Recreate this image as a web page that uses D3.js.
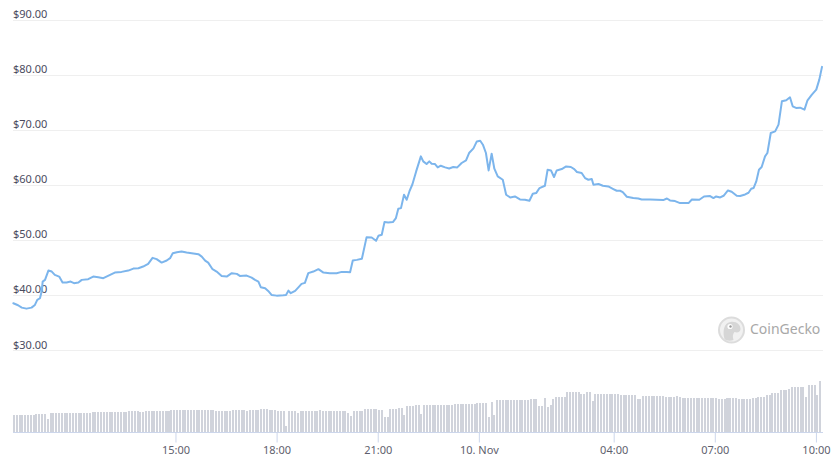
<!DOCTYPE html>
<html>
<head>
<meta charset="utf-8">
<script src="https://cdn.jsdelivr.net/npm/d3@7"></script>
<style>
  body { margin: 0; background: #fff; }
  svg { display: block; font-family: "Noto Sans", "Open Sans", sans-serif; }
</style>
</head>
<body>
<div id="chart"></div>
<script>
// Price readings: hours since 9 Nov 00:00, and USD price
var priceHours = [
  10.19, 10.33, 10.44, 10.58, 10.73, 10.83, 10.90, 10.98, 11.03, 11.06, 11.13, 11.23, 11.33, 11.42,
  11.55, 11.65, 11.77, 11.89, 11.99, 12.12, 12.22, 12.41, 12.56, 12.71, 12.86, 13.06, 13.20, 13.40,
  13.60, 13.75, 13.90, 14.04, 14.19, 14.32, 14.44, 14.59, 14.74, 14.84, 14.92, 15.04, 15.18, 15.33,
  15.48, 15.68, 15.78, 15.88, 15.97, 16.10, 16.22, 16.37, 16.52, 16.67, 16.82, 16.91, 17.11, 17.26,
  17.36, 17.46, 17.53, 17.66, 17.75, 17.85, 18.00, 18.20, 18.28, 18.35, 18.42, 18.55, 18.64, 18.74,
  18.84, 18.94, 19.09, 19.24, 19.39, 19.58, 19.78, 19.93, 20.08, 20.18, 20.26, 20.38, 20.53, 20.67,
  20.82, 20.95, 21.02, 21.12, 21.20, 21.31, 21.45, 21.54, 21.61, 21.69, 21.78, 21.86, 21.94, 22.03,
  22.14, 22.28, 22.35, 22.45, 22.53, 22.60, 22.70, 22.78, 22.87, 23.00, 23.12, 23.24, 23.36, 23.49,
  23.62, 23.71, 23.84, 23.94, 24.04, 24.12, 24.21, 24.29, 24.38, 24.46, 24.56, 24.71, 24.81, 24.93,
  25.07, 25.22, 25.37, 25.50, 25.60, 25.70, 25.80, 25.96, 26.04, 26.14, 26.23, 26.31, 26.46, 26.59,
  26.73, 26.83, 26.91, 27.05, 27.15, 27.25, 27.35, 27.40, 27.55, 27.68, 27.84, 27.99, 28.09, 28.19,
  28.27, 28.39, 28.58, 28.73, 28.83, 29.08, 29.47, 29.58, 29.67, 29.82, 29.97, 30.22, 30.32, 30.54,
  30.68, 30.86, 30.96, 31.04, 31.16, 31.26, 31.39, 31.50, 31.65, 31.75, 31.90, 32.00, 32.08, 32.15,
  32.23, 32.31, 32.39, 32.49, 32.56, 32.66, 32.79, 32.89, 32.99, 33.12, 33.23, 33.31, 33.41, 33.53,
  33.66, 33.75, 33.88, 34.01, 34.10, 34.18
]
var prices = [
  38.49, 38.13, 37.69, 37.51, 37.69, 38.18, 39.09, 39.40, 40.60, 42.42, 42.73, 44.42, 44.24, 43.64,
  43.33, 42.24, 42.24, 42.42, 42.13, 42.24, 42.73, 42.85, 43.33, 43.22, 43.04, 43.64, 44.05, 44.18,
  44.42, 44.78, 44.85, 45.15, 45.64, 46.73, 46.49, 45.87, 46.24, 46.67, 47.58, 47.76, 47.87, 47.69,
  47.58, 47.40, 46.96, 46.24, 45.87, 44.67, 44.24, 43.45, 43.33, 43.95, 43.82, 43.45, 43.51, 43.15,
  42.73, 42.42, 41.40, 41.22, 40.73, 40.00, 39.87, 39.95, 40.00, 40.78, 40.31, 40.73, 41.33, 42.00,
  42.18, 43.95, 44.24, 44.67, 44.05, 43.95, 43.95, 44.18, 44.18, 44.13, 46.24, 46.36, 46.55, 50.49,
  50.42, 49.82, 50.73, 50.91, 53.22, 53.15, 53.22, 53.95, 55.64, 55.76, 58.18, 57.27, 58.78, 60.09,
  62.42, 65.15, 64.24, 63.76, 64.24, 63.82, 63.76, 63.15, 63.45, 63.15, 62.96, 63.22, 63.15, 63.95,
  64.42, 65.76, 66.60, 67.87, 68.00, 67.27, 65.76, 62.60, 65.64, 62.91, 61.51, 60.91, 58.18, 57.69,
  57.87, 57.33, 57.27, 57.09, 58.36, 58.49, 59.40, 59.82, 62.73, 62.60, 61.40, 62.60, 62.85, 63.33,
  63.22, 62.85, 62.31, 62.13, 61.22, 60.91, 61.04, 60.00, 60.13, 59.82, 59.69, 59.22, 58.91, 58.91,
  58.67, 57.82, 57.58, 57.51, 57.33, 57.33, 57.22, 57.51, 57.15, 57.04, 56.67, 56.67, 57.33, 57.27,
  57.87, 57.95, 57.58, 57.87, 57.69, 58.00, 58.96, 58.73, 58.00, 57.95, 58.24, 58.55, 59.27, 59.40,
  60.60, 62.73, 63.22, 65.15, 65.76, 69.40, 69.69, 70.91, 75.15, 75.33, 75.87, 74.24, 73.95, 74.00,
  73.64, 75.33, 76.36, 77.27, 79.09, 81.40
]

// Volume, one bar per 5 minutes (relative units), from 10:11 on 9 Nov
var volumes = [
  17, 17, 17, 17, 17, 17, 17, 17, 18, 18, 18, 18, 13, 19, 19, 19, 19, 19, 19, 19, 19, 19, 19, 19,
  19, 19, 19, 19, 20, 20, 20, 20, 20, 20, 20, 20, 20, 20, 20, 20, 20, 21, 21, 21, 21, 20, 20, 21,
  21, 21, 21, 21, 21, 21, 21, 21, 22, 22, 22, 22, 22, 22, 22, 22, 22, 22, 22, 22, 22, 22, 22, 22,
  21.5, 21.5, 21.5, 21.5, 21.5, 21.5, 22.3, 22.3, 22.3, 22.3, 22.3, 20.7, 22.3, 22.3, 22.3, 22.3, 23.3, 23.3, 23.3, 22.3, 22.3, 22.3, 21.3, 21.3,
  21.3, 5.7, 21.3, 21.3, 21.3, 19, 21.3, 21.3, 21.3, 21.3, 21.3, 21.3, 21.3, 22.3, 21.3, 21.3, 21.3, 21.3, 21.3, 21.3, 21.3, 21.3, 20.7, 19,
  15.7, 21.5, 21.5, 21.5, 21.5, 23.3, 23.3, 23.3, 23.3, 23.3, 22.3, 22.3, 15, 15, 23.3, 23.3, 23.3, 24, 24, 17.3, 25.7, 25.7, 25.7, 26.7,
  26.7, 18.3, 27.3, 27.3, 27.3, 27.3, 27.3, 27.3, 27.3, 27.3, 27.3, 27.3, 27.3, 27.7, 27.7, 27.7, 27.7, 28.3, 28.3, 28.3, 28.3, 29.3, 29.3, 29.3,
  29.3, 14.7, 30, 17.3, 32.3, 32.3, 32.3, 32.3, 32.3, 32.3, 32.3, 32.3, 32.3, 32.3, 32.3, 32.3, 33.3, 33.3, 33.3, 25.7, 25.7, 34, 24.7, 26.7,
  33.3, 35, 35, 35, 35, 39.7, 39.7, 39.7, 39.7, 39.7, 38.3, 38.3, 39.7, 39.7, 31.3, 38.3, 38.3, 38.3, 38.3, 38.3, 38.3, 38.3, 38.3, 38.3,
  37.3, 37.3, 37.3, 37.3, 37.3, 37.3, 33.3, 33.3, 36.3, 36.3, 36.3, 36.3, 36.3, 36.3, 36.3, 36.3, 35.3, 35.3, 35.3, 34.7, 35.7, 35, 34.3, 34.3,
  34.3, 34.3, 34.3, 34.3, 34.3, 34.3, 34.3, 34.3, 34.3, 34.3, 34.3, 33.3, 33.3, 33.3, 34.3, 34.3, 34.3, 34.3, 33.3, 33.3, 33.3, 33.3, 33.3, 34,
  34, 35.3, 35.3, 35.3, 36.7, 36.7, 38.7, 38.7, 38.7, 42.3, 42.3, 42.3, 43.3, 45.3, 45.3, 45.3, 45.3, 45.3, 34.7, 46.7, 46.7, 46.7, 36.7, 50.7
]

var startHour = 10.18
var endHour = 34.18

var yTicks = [30, 40, 50, 60, 70, 80, 90]
var xTickHours = [15, 18, 21, 24, 28, 31, 34]
var xTickLabels = ["15:00", "18:00", "21:00", "10. Nov", "04:00", "07:00", "10:00"]

var svgWidth = 838
var svgHeight = 465

var baseDate = new Date(2021, 10, 9)
function toDate(h) {
  return new Date(baseDate.getTime() + h * 3600e3)
}

var svg = d3.select("#chart")
  .append("svg")
  .attr("width", svgWidth)
  .attr("height", svgHeight)

// Scales
var xScale = d3.scaleTime()
  .domain([toDate(startHour), toDate(endHour)])
  .range([13, 822])

var yScale = d3.scaleLinear()
  .domain([30, 90])
  .range([350, 19.5])

var volScale = d3.scaleLinear()
  .domain([0, 60])
  .range([432, 372])

// Grid lines and price labels
var grid = svg.append("g")
grid.selectAll("line")
  .data(yTicks)
  .enter()
  .append("line")
  .attr("x1", 13)
  .attr("x2", 823)
  .attr("y1", d => Math.round(yScale(d)) + 0.5)
  .attr("y2", d => Math.round(yScale(d)) + 0.5)
  .attr("stroke", "#efefef")
  .attr("stroke-width", 1)

grid.selectAll("text")
  .data(yTicks)
  .enter()
  .append("text")
  .attr("x", 13)
  .attr("y", d => yScale(d) - 1.5)
  .attr("font-size", 11)
  .attr("fill", "#4b4b5e")
  .text(d => "$" + d3.format(".2f")(d))

// Watermark
var mark = svg.append("g").attr("transform", "translate(731.5, 330)")
mark.append("circle")
  .attr("r", 12.5)
  .attr("fill", "#f1f1f1")
  .attr("stroke", "#dcdcdc")
  .attr("stroke-width", 2)
mark.append("path")
  .attr("d", "M-7,9 C-9,2 -8,-7 -1,-8 C5,-9 9,-5 9,-1 C9,2 6,3 3,2 C1,4 1,7 2,10 C-1,11 -5,11 -7,9 Z")
  .attr("fill", "#d6d6d6")
mark.append("circle")
  .attr("cx", -1.5).attr("cy", -3.5).attr("r", 2.6)
  .attr("fill", "#ffffff")
mark.append("circle")
  .attr("cx", -1).attr("cy", -3.5).attr("r", 1.2)
  .attr("fill", "#9a9a9a")
svg.append("text")
  .attr("x", 750)
  .attr("y", 333.5)
  .attr("font-size", 14)
  .attr("fill", "#a8a8a8")
  .text("CoinGecko")

// Volume bars
var barStep = xScale(toDate(startHour + 1 / 12)) - xScale(toDate(startHour))
svg.append("g")
  .attr("shape-rendering", "crispEdges")
  .selectAll("rect")
  .data(volumes)
  .enter()
  .append("rect")
  .attr("x", (d, i) => xScale(toDate(startHour + i / 12)))
  .attr("width", barStep - 0.8)
  .attr("y", d => volScale(d))
  .attr("height", d => volScale(0) - volScale(d))
  .attr("fill", "#d0d3db")

// X axis
var bottomAxis = d3.axisBottom(xScale)
  .tickValues(xTickHours.map(toDate))
  .tickFormat((d, i) => xTickLabels[i])
  .tickSize(10)
  .tickSizeOuter(0)
  .tickPadding(4)

var xAxis = svg.append("g")
  .attr("transform", "translate(0, 432.5)")
  .call(bottomAxis)

xAxis.select(".domain").attr("stroke", "#ccd6eb").attr("d", "M13,0H823")
xAxis.selectAll(".tick line").attr("stroke", "#ccd6eb")
xAxis.selectAll(".tick text")
  .attr("font-family", "Noto Sans, Open Sans, sans-serif")
  .attr("font-size", 11)
  .attr("fill", "#5f5f6e")

// Price line
var line = d3.line()
  .x((d, i) => xScale(toDate(priceHours[i])))
  .y(d => yScale(d))

svg.append("path")
  .datum(prices)
  .attr("d", line)
  .attr("fill", "none")
  .attr("stroke", "#7cb5ec")
  .attr("stroke-width", 2)
  .attr("stroke-linejoin", "round")
  .attr("stroke-linecap", "round")
</script>
</body>
</html>
